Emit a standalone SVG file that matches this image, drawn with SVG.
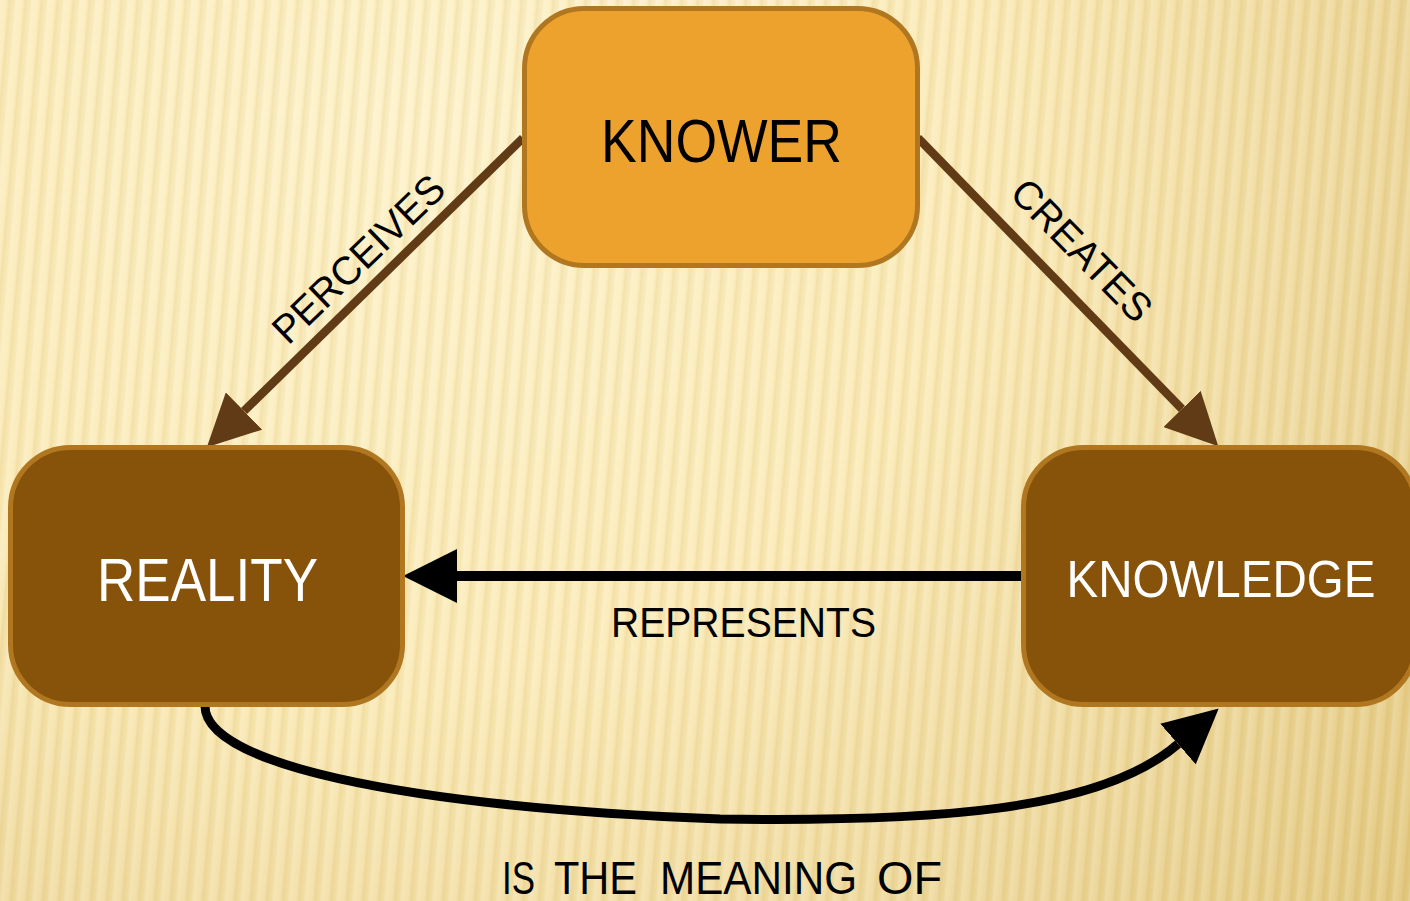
<svg xmlns="http://www.w3.org/2000/svg" width="1410" height="901" viewBox="0 0 1410 901">
  <defs>
    <radialGradient id="bgGrad" cx="420" cy="120" r="1250" gradientUnits="userSpaceOnUse">
      <stop offset="0" stop-color="#fdf2c9"/>
      <stop offset="0.45" stop-color="#fbebb8"/>
      <stop offset="0.8" stop-color="#ecd698"/>
      <stop offset="1" stop-color="#e3c981"/>
    </radialGradient>
    <linearGradient id="stripeGrad" x1="0" y1="0" x2="1" y2="0">
      <stop offset="0" stop-color="#ffffff" stop-opacity="0.18"/>
      <stop offset="0.35" stop-color="#ffffff" stop-opacity="0.05"/>
      <stop offset="0.6" stop-color="#b98a20" stop-opacity="0.13"/>
      <stop offset="0.8" stop-color="#b98a20" stop-opacity="0.05"/>
      <stop offset="1" stop-color="#ffffff" stop-opacity="0.18"/>
    </linearGradient>
    <pattern id="stripes" width="16" height="40" patternUnits="userSpaceOnUse" patternTransform="skewX(-5)">
      <rect width="16" height="40" fill="url(#stripeGrad)"/>
    </pattern>
    <marker id="headBrown" viewBox="0 0 52 52" refX="0" refY="26" markerWidth="52" markerHeight="52" markerUnits="userSpaceOnUse" orient="auto">
      <path d="M0,0 L52,26 L0,52 z" fill="#613b15"/>
    </marker>
    <marker id="headBlack" viewBox="0 0 54 54" refX="0" refY="27" markerWidth="54" markerHeight="54" markerUnits="userSpaceOnUse" orient="auto">
      <path d="M0,0 L54,27 L0,54 z" fill="#000"/>
    </marker>
  </defs>
  <style>
    .box { stroke: #b07720; stroke-width: 5; }
    .light { fill: #eea22e; }
    .dark { fill: #87530b; }
    .label { font-family: "Liberation Sans", Arial, sans-serif; }
    .nodeText { font-size: 62px; text-anchor: middle; }
    .edgeText { font-size: 40px; fill: #000; }
    .link { fill: none; }
  </style>

  <!-- backdrop -->
  <rect width="1410" height="901" fill="url(#bgGrad)"/>
  <rect width="1410" height="901" fill="url(#stripes)"/>

  <!-- connectors -->
  <g id="connectors">
    <line class="link" x1="523" y1="138" x2="244" y2="411" stroke="#613b15" stroke-width="8.5" marker-end="url(#headBrown)"/>
    <line class="link" x1="918" y1="138" x2="1182" y2="409" stroke="#613b15" stroke-width="8.5" marker-end="url(#headBrown)"/>
    <line class="link" x1="1022" y1="576" x2="457" y2="576" stroke="#000" stroke-width="10" marker-end="url(#headBlack)"/>
    <path class="link" d="M205,706 C205,762 390,806 720,819 C930,822 1100,812 1178,744" stroke="#000" stroke-width="9" marker-end="url(#headBlack)"/>

    <text class="label edgeText" transform="translate(368,269) rotate(-44)" text-anchor="middle" textLength="222" lengthAdjust="spacingAndGlyphs">PERCEIVES</text>
    <text class="label edgeText" transform="translate(1072,260) rotate(45.5)" text-anchor="middle" textLength="182" lengthAdjust="spacingAndGlyphs">CREATES</text>
    <text class="label" x="611" y="637" font-size="42" textLength="265" lengthAdjust="spacingAndGlyphs">REPRESENTS</text>
    <g class="label" font-size="46">
      <text x="502" y="894" textLength="33" lengthAdjust="spacingAndGlyphs">IS</text>
      <text x="554" y="894" textLength="83" lengthAdjust="spacingAndGlyphs">THE</text>
      <text x="660" y="894" textLength="197" lengthAdjust="spacingAndGlyphs">MEANING</text>
      <text x="877" y="894" textLength="65" lengthAdjust="spacingAndGlyphs">OF</text>
    </g>
  </g>

  <!-- nodes -->
  <g id="knower">
    <rect class="box light" x="524.5" y="8.5" width="393" height="257" rx="60"/>
    <text class="label nodeText" x="721.5" y="162" fill="#000" textLength="241" lengthAdjust="spacingAndGlyphs">KNOWER</text>
  </g>
  <g id="reality">
    <rect class="box dark" x="10.5" y="447.5" width="392" height="257" rx="60"/>
    <text class="label nodeText" x="207.5" y="601" fill="#fff" textLength="221" lengthAdjust="spacingAndGlyphs">REALITY</text>
  </g>
  <g id="knowledge">
    <rect class="box dark" x="1023.5" y="447.5" width="392" height="257" rx="60"/>
    <text class="label nodeText" x="1221" y="597" fill="#fff" style="font-size:52px" textLength="309" lengthAdjust="spacingAndGlyphs">KNOWLEDGE</text>
  </g>
</svg>
